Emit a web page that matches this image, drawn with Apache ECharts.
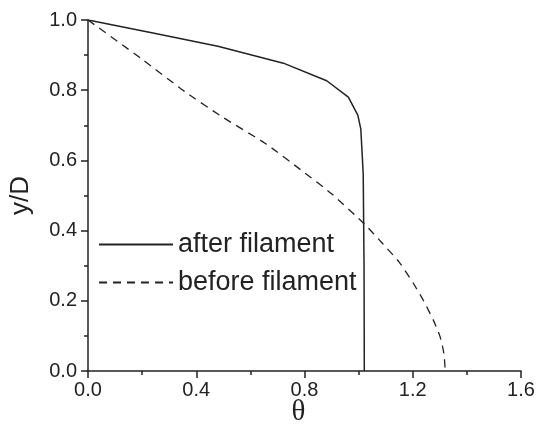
<!DOCTYPE html>
<html>
<head>
<meta charset="utf-8">
<script src="https://cdn.jsdelivr.net/npm/echarts@6/dist/echarts.min.js"></script>
<style>
  html, body { margin: 0; padding: 0; background: #fff; }
  #chart { width: 542px; height: 425px; }
</style>
</head>
<body>
<div id="chart"></div>
<script>
// 曲线数据 (θ, y/D)
const afterTheta = [0, 0.24, 0.48, 0.722, 0.882, 0.962, 0.997, 1.008, 1.013, 1.017, 1.020, 1.021]
const afterY = [1.0, 0.963, 0.925, 0.877, 0.827, 0.780, 0.729, 0.690, 0.620, 0.560, 0.300, 0.0]

const beforeTheta = [0, 0.2, 0.358, 0.5, 0.654, 0.8, 0.9, 1.021, 1.091, 1.15, 1.202, 1.24, 1.276, 1.30, 1.31, 1.316, 1.32]
const beforeY = [1.0, 0.888, 0.796, 0.722, 0.649, 0.565, 0.505, 0.419, 0.361, 0.31, 0.25, 0.2, 0.145, 0.1, 0.07, 0.045, 0.0]

const seriesNames = ['after filament', 'before filament']

const pairs = (xs, ys) => xs.map((x, i) => [x, ys[i]])

const chart = echarts.init(document.getElementById('chart'))

const axisCommon = {
  axisLine: { show: true, onZero: false, lineStyle: { color: '#222', width: 1.5 } },
  axisTick: { show: true, inside: false, length: 7, lineStyle: { color: '#222', width: 1.5 } },
  minorTick: { show: true, splitNumber: 2, length: 4, lineStyle: { color: '#222', width: 1.5 } },
  splitLine: { show: false },
  axisLabel: {
    color: '#222',
    fontSize: 20,
    fontFamily: 'Liberation Sans, Arial, sans-serif',
    formatter: v => v.toFixed(1)
  }
}

chart.setOption({
  animation: false,
  grid: { left: 88, right: 21, top: 20, bottom: 54, outerBoundsMode: 'none', containLabel: false },
  legend: {
    orient: 'vertical',
    left: 93,
    top: 226,
    itemWidth: 74,
    itemHeight: 14,
    itemGap: 11,
    data: seriesNames,
    itemStyle: { opacity: 0 },
    textStyle: { fontSize: 27, color: '#222', fontFamily: 'Liberation Sans, Arial, sans-serif' }
  },
  xAxis: Object.assign({}, axisCommon, {
    type: 'value',
    min: 0,
    max: 1.6,
    interval: 0.4,
    name: 'θ',
    nameLocation: 'middle',
    nameGap: 27,
    nameMoveOverlap: false,
    nameTextStyle: { fontSize: 29, color: '#222', fontFamily: 'Liberation Serif, serif', padding: [0, 12, 0, 0] },
    axisLabel: Object.assign({}, axisCommon.axisLabel, { margin: 9 })
  }),
  yAxis: Object.assign({}, axisCommon, {
    type: 'value',
    min: 0,
    max: 1.0,
    interval: 0.2,
    name: 'y/D',
    nameLocation: 'middle',
    nameGap: 54,
    nameMoveOverlap: false,
    nameTextStyle: { fontSize: 26, color: '#222', fontFamily: 'Liberation Sans, Arial, sans-serif' },
    axisLabel: Object.assign({}, axisCommon.axisLabel, { margin: 11 })
  }),
  series: [
    {
      name: seriesNames[0],
      type: 'line',
      data: pairs(afterTheta, afterY),
      symbol: 'none',
      lineStyle: { color: '#222', width: 1.5, type: 'solid' },
      itemStyle: { color: '#222' }
    },
    {
      name: seriesNames[1],
      type: 'line',
      data: pairs(beforeTheta, beforeY),
      symbol: 'none',
      smooth: 0.2,
      lineStyle: { color: '#222', width: 1.3, type: [8, 6] },
      itemStyle: { color: '#222' }
    }
  ]
})
</script>
</body>
</html>
